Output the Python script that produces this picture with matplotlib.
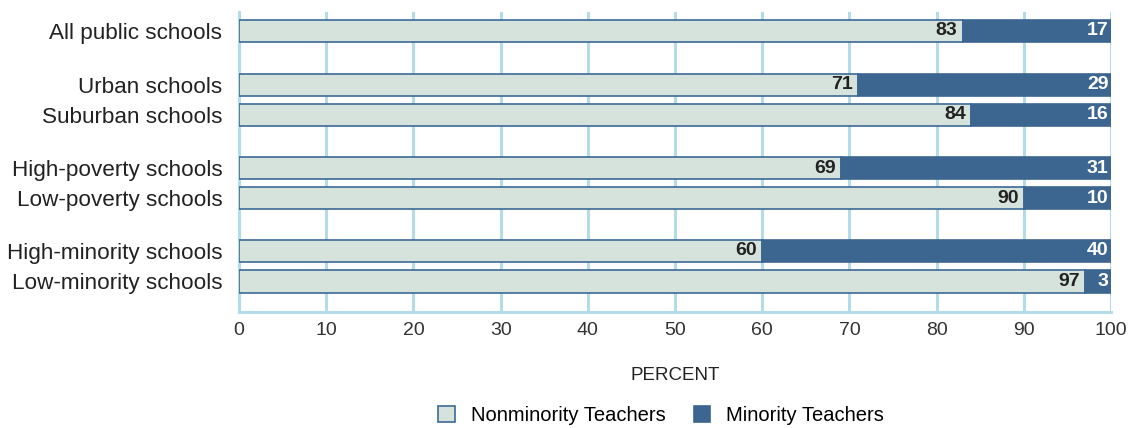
import matplotlib.pyplot as plt
import numpy as np

plt.rcParams['font.family'] = ['Liberation Sans', 'DejaVu Sans']

categories = ['All public schools', 'Urban schools', 'Suburban schools',
              'High-poverty schools', 'Low-poverty schools',
              'High-minority schools', 'Low-minority schools']
nonminority = [83, 71, 84, 69, 90, 60, 97]
minority = [17, 29, 16, 31, 10, 40, 3]

# bar positions (grouped with gaps)
ypos = np.array([0, 1.8, 2.8, 4.57, 5.57, 7.33, 8.35])

light = '#d6e2dc'
dark = '#3c6690'
edge = '#3d6a96'
grid = '#b3dbe8'

fig = plt.figure(figsize=(11.32, 4.28), dpi=100)
ax = fig.add_axes([239/1132, 1 - 312/428, (1111 - 239)/1132, 300/428])

h = 0.74
ax.barh(ypos, nonminority, height=h, color=light, edgecolor=edge, linewidth=1.2,
        label='Nonminority Teachers', zorder=3)
ax.barh(ypos, minority, left=nonminority, height=h, color=dark, edgecolor=dark,
        linewidth=1.2, label='Minority Teachers', zorder=3)

for y, a, b in zip(ypos, nonminority, minority):
    ax.text(a - 0.6, y, str(a), ha='right', va='center', fontsize=14,
            fontweight='bold', color='#222222', zorder=4)
    ax.text(99.7, y, str(b), ha='right', va='center', fontsize=14,
            fontweight='bold', color='white', zorder=4)

ax.set_xlim(0, 100)
ax.set_ylim(9.37, -0.63)
ax.set_yticks(ypos, labels=categories)
ax.set_xticks(range(0, 101, 10))
ax.tick_params(axis='y', length=0, labelsize=16.2, pad=12, colors='#222222')
ax.tick_params(axis='x', length=0, labelsize=14, pad=7, colors='#333333')
ax.xaxis.grid(True, color=grid, linewidth=2.2, zorder=0)
for s in ['top', 'right']:
    ax.spines[s].set_visible(False)
for s in ['left', 'bottom']:
    ax.spines[s].set_color(grid)
    ax.spines[s].set_linewidth(2.2)
    ax.spines[s].set_zorder(1)

ax.set_xlabel('PERCENT', fontsize=13.5, color='#222222', labelpad=20)

leg = fig.legend(loc='lower center', bbox_to_anchor=(0.584, -0.035), ncol=2,
                 frameon=False, fontsize=14.5, handlelength=0.8, handleheight=0.8,
                 columnspacing=1.4, handletextpad=0.8)

plt.savefig('out.png', dpi=100)
plt.close('all')
